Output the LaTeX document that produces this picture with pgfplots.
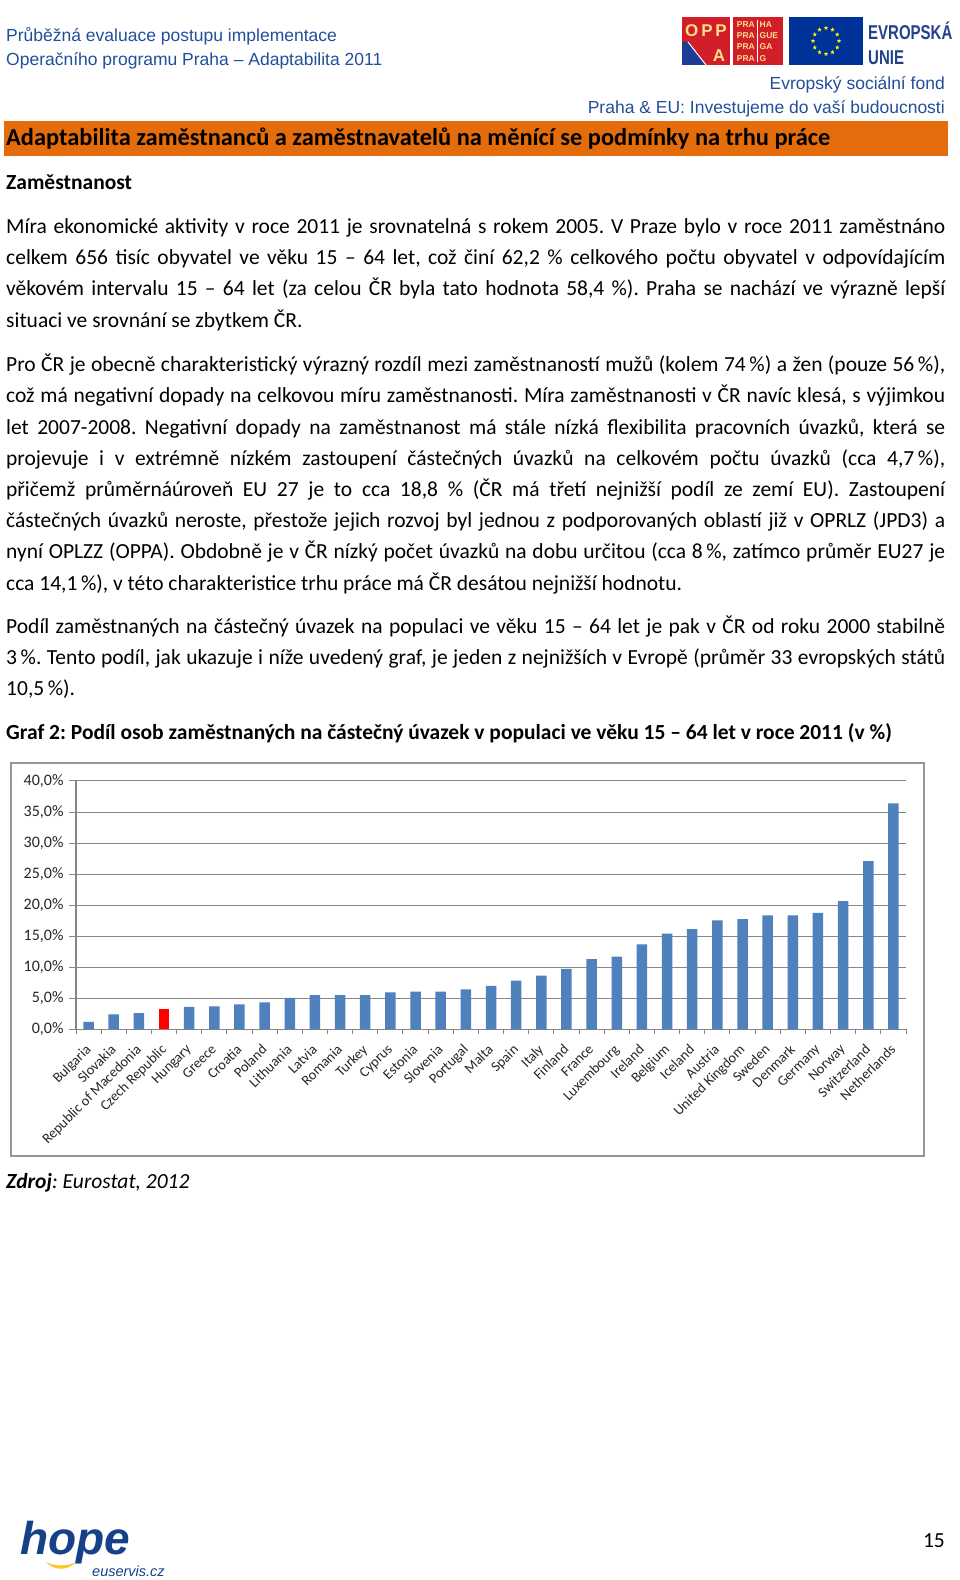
\documentclass[border=0pt]{standalone}
\usepackage{fontspec}
\setmainfont{Carlito}
\newfontfamily\arialfont{Liberation Sans}
\usepackage{graphicx}
\usepackage{pgfplots}
\pgfplotsset{compat=1.18}
\usepackage{pgfplotstable}
\usetikzlibrary{shapes.geometric}

\definecolor{hdrblue}{RGB}{33,79,156}
\definecolor{orangebar}{RGB}{228,108,10}
\definecolor{barblue}{RGB}{79,129,189}
\definecolor{axisgrey}{RGB}{134,134,134}
\definecolor{framegrey}{RGB}{150,150,150}
\definecolor{eublue}{RGB}{0,51,153}
\definecolor{oppared}{RGB}{210,30,40}
\definecolor{oppablue}{RGB}{30,60,150}
\definecolor{hopeblue}{RGB}{22,64,135}
\definecolor{hopeyellow}{RGB}{250,200,40}
\definecolor{logotext}{RGB}{255,220,140}
\definecolor{eutext}{RGB}{35,65,140}

\pgfplotstableread{
i v
0 1.2
1 2.4
2 2.6
4 3.6
5 3.7
6 4.0
7 4.35
8 5.05
9 5.5
10 5.5
11 5.5
12 5.95
13 6.05
14 6.05
15 6.45
16 7.0
17 7.85
18 8.65
19 9.75
20 11.3
21 11.7
22 13.7
23 15.4
24 16.15
25 17.55
26 17.75
27 18.35
28 18.35
29 18.75
30 20.65
31 27.1
32 36.4
}\datatable

\frenchspacing
\newcommand{\bodyfont}{\fontsize{21.5pt}{24pt}\selectfont\frenchspacing}
\newcommand{\jline}[2]{\node[anchor=base west,inner sep=0pt] at (6,#1) {\bodyfont\makebox[939pt][s]{#2}};}
\newcommand{\lline}[2]{\node[anchor=base west,inner sep=0pt] at (6,#1) {\bodyfont #2};}

\begin{document}
\begin{tikzpicture}[x=1pt,y=1pt]
\fill[white] (0,0) rectangle (960,1580);

\begin{axis}[
  at={(76pt,550.7pt)}, anchor=south west,
  scale only axis, width=830pt, height=248.3pt,
  xmin=-0.5, xmax=32.5, ymin=0, ymax=40,
  axis x line*=bottom, axis y line*=left,
  axis line style={draw=axisgrey, line width=1.1pt},
  ytick={0,5,...,40},
  yticklabels={{0,0\%},{5,0\%},{10,0\%},{15,0\%},{20,0\%},{25,0\%},{30,0\%},{35,0\%},{40,0\%}},
  ymajorgrids, grid style={draw=axisgrey, line width=1pt},
  xtick={0,...,32},
  xticklabels={Bulgaria,Slovakia,Republic of Macedonia,Czech Republic,Hungary,Greece,Croatia,Poland,Lithuania,Latvia,Romania,Turkey,Cyprus,Estonia,Slovenia,Portugal,Malta,Spain,Italy,Finland,France,Luxembourg,Ireland,Belgium,Iceland,Austria,United Kingdom,Sweden,Denmark,Germany,Norway,Switzerland,Netherlands},
  minor xtick={-0.5,0.5,...,32.5},
  tick align=outside,
  major tick length=7pt, minor tick length=5pt,
  major x tick style={draw=none},
  minor x tick style={draw=axisgrey, line width=1pt},
  ytick style={draw=axisgrey, line width=1pt},
  xticklabel style={xshift=-4pt, yshift=-7pt, rotate=45, anchor=north east, inner sep=0pt, text=black!85, font=\fontsize{14.3pt}{14.3pt}\selectfont},
  yticklabel style={text=black!85, font=\fontsize{16pt}{16pt}\selectfont, xshift=-2pt},
  clip=false,
]
\addplot[ybar, bar width=10.5pt, bar shift=0pt, fill=barblue, draw=none] table[x=i,y=v] {\datatable};
\addplot[ybar, bar width=10.5pt, bar shift=0pt, fill=red, draw=none] coordinates {(3,3.2)};
\end{axis}

% ---- header left
\node[anchor=base west,inner sep=0pt,text=hdrblue] at (6,1538) {\arialfont\fontsize{17.5pt}{20pt}\selectfont Průběžná evaluace postupu implementace};
\node[anchor=base west,inner sep=0pt,text=hdrblue] at (6,1514) {\arialfont\fontsize{17.5pt}{20pt}\selectfont Operačního programu Praha – Adaptabilita 2011};

% ---- logos
\fill[oppared] (682,1515) rectangle (730,1563);
\fill[oppablue] (682,1538) -- (688,1538) -- (706,1515) -- (682,1515) -- cycle;
\draw[white, line width=1pt] (688,1538) -- (706,1515);
\node[anchor=base,inner sep=0pt,text=logotext] at (706,1543) {\arialfont\bfseries\fontsize{17pt}{17pt}\selectfont O\,P\,P};
\node[anchor=base,inner sep=0pt,text=logotext] at (719,1518) {\arialfont\bfseries\fontsize{17pt}{17pt}\selectfont A};
\fill[oppared] (733,1515) rectangle (783,1563);
\draw[white, line width=0.8pt] (757,1518) -- (757,1560);
\foreach \yy/\rt in {1552/HA,1541/GUE,1530/GA,1518/G}{
  \node[anchor=base east,inner sep=0pt,text=logotext] at (755,\yy) {\arialfont\bfseries\fontsize{8.5pt}{9pt}\selectfont PRA};
  \node[anchor=base west,inner sep=0pt,text=logotext] at (759.5,\yy) {\arialfont\bfseries\fontsize{8.5pt}{9pt}\selectfont \rt};
}
\fill[eublue] (789,1515) rectangle (863,1563);
\foreach \a in {0,30,...,330}{
  \node[star, star points=5, star point ratio=2.3, fill=yellow, inner sep=0pt, minimum size=4.5pt] at ({826+13*cos(\a)},{1539+13*sin(\a)}) {};
}
\node[anchor=base west,inner sep=0pt,text=eutext] at (868,1540) {\scalebox{0.75}[1]{\arialfont\bfseries\fontsize{20pt}{20pt}\selectfont EVROPSKÁ}};
\node[anchor=base west,inner sep=0pt,text=eutext] at (868,1515) {\scalebox{0.75}[1]{\arialfont\bfseries\fontsize{20pt}{20pt}\selectfont UNIE}};

% ---- header right
\node[anchor=base east,inner sep=0pt,text=hdrblue] at (945,1490) {\arialfont\fontsize{17.5pt}{20pt}\selectfont Evropský sociální fond};
\node[anchor=base east,inner sep=0pt,text=hdrblue] at (945,1466) {\arialfont\fontsize{17.5pt}{20pt}\selectfont Praha \& EU: Investujeme do vaší budoucnosti};

% ---- orange title bar
\fill[orangebar] (4,1424) rectangle (948,1459);
\node[anchor=base west,inner sep=0pt] at (6,1434) {\bfseries\fontsize{24.4pt}{26pt}\selectfont Adaptabilita zaměstnanců a zaměstnavatelů na měnící se podmínky na trhu práce};

\lline{1390}{\bfseries Zaměstnanost}

% ---- paragraph 1
\jline{1346.5}{Míra ekonomické aktivity v roce 2011 je srovnatelná s rokem 2005. V Praze bylo v roce 2011 zaměstnáno}
\jline{1315.2}{celkem 656 tisíc obyvatel ve věku 15 – 64 let, což činí 62,2 \% celkového počtu obyvatel v odpovídajícím}
\jline{1284}{věkovém intervalu 15 – 64 let (za celou ČR byla tato hodnota 58,4 \%). Praha se nachází ve výrazně lepší}
\lline{1252.8}{situaci ve srovnání se zbytkem ČR.}

% ---- paragraph 2
\jline{1208.4}{Pro ČR je obecně charakteristický výrazný rozdíl mezi zaměstnaností mužů (kolem 74\,\%) a žen (pouze 56\,\%),}
\jline{1177.1}{což má negativní dopady na celkovou míru zaměstnanosti. Míra zaměstnanosti v ČR navíc klesá, s výjimkou}
\jline{1145.9}{let 2007-2008. Negativní dopady na zaměstnanost má stále nízká flexibilita pracovních úvazků, která se}
\jline{1114.7}{projevuje i v extrémně nízkém zastoupení částečných úvazků na celkovém počtu úvazků (cca 4,7\,\%),}
\jline{1083.5}{přičemž průměrnáúroveň EU 27 je to cca 18,8 \% (ČR má třetí nejnižší podíl ze zemí EU). Zastoupení}
\jline{1052.2}{částečných úvazků neroste, přestože jejich rozvoj byl jednou z podporovaných oblastí již v OPRLZ (JPD3) a}
\jline{1021}{nyní OPLZZ (OPPA). Obdobně je v ČR nízký počet úvazků na dobu určitou (cca 8\,\%, zatímco průměr EU27 je}
\lline{989.8}{cca 14,1\,\%), v této charakteristice trhu práce má ČR desátou nejnižší hodnotu.}

% ---- paragraph 3
\jline{946.5}{Podíl zaměstnaných na částečný úvazek na populaci ve věku 15 – 64 let je pak v ČR od roku 2000 stabilně}
\jline{915.2}{3\,\%. Tento podíl, jak ukazuje i níže uvedený graf, je jeden z nejnižších v Evropě (průměr 33 evropských států}
\lline{884}{10,5\,\%).}

\lline{840.5}{\bfseries Graf 2: Podíl osob zaměstnaných na částečný úvazek v populaci ve věku 15 – 64 let v roce 2011 (v \%)}

% ---- chart frame
\draw[framegrey, line width=1.5pt] (11,424) rectangle (924,817);

\node[anchor=base west,inner sep=0pt] at (6,391) {\bodyfont\textbf{\textit{Zdroj}}\textit{: Eurostat, 2012}};

% ---- footer
\node[anchor=base west,inner sep=0pt,text=hopeblue] at (20,25) {\arialfont\bfseries\itshape\fontsize{46pt}{46pt}\selectfont hope};
\fill[hopeyellow] (46,18) .. controls (54,9) and (68,9) .. (76,18) .. controls (68,13.5) and (54,13.5) .. (46,18) -- cycle;
\node[anchor=base west,inner sep=0pt,text=hopeblue] at (92,3) {\arialfont\itshape\fontsize{14.5pt}{15pt}\selectfont euservis.cz};
\node[anchor=base east,inner sep=0pt] at (945,32) {\bodyfont 15};
\end{tikzpicture}
\end{document}
